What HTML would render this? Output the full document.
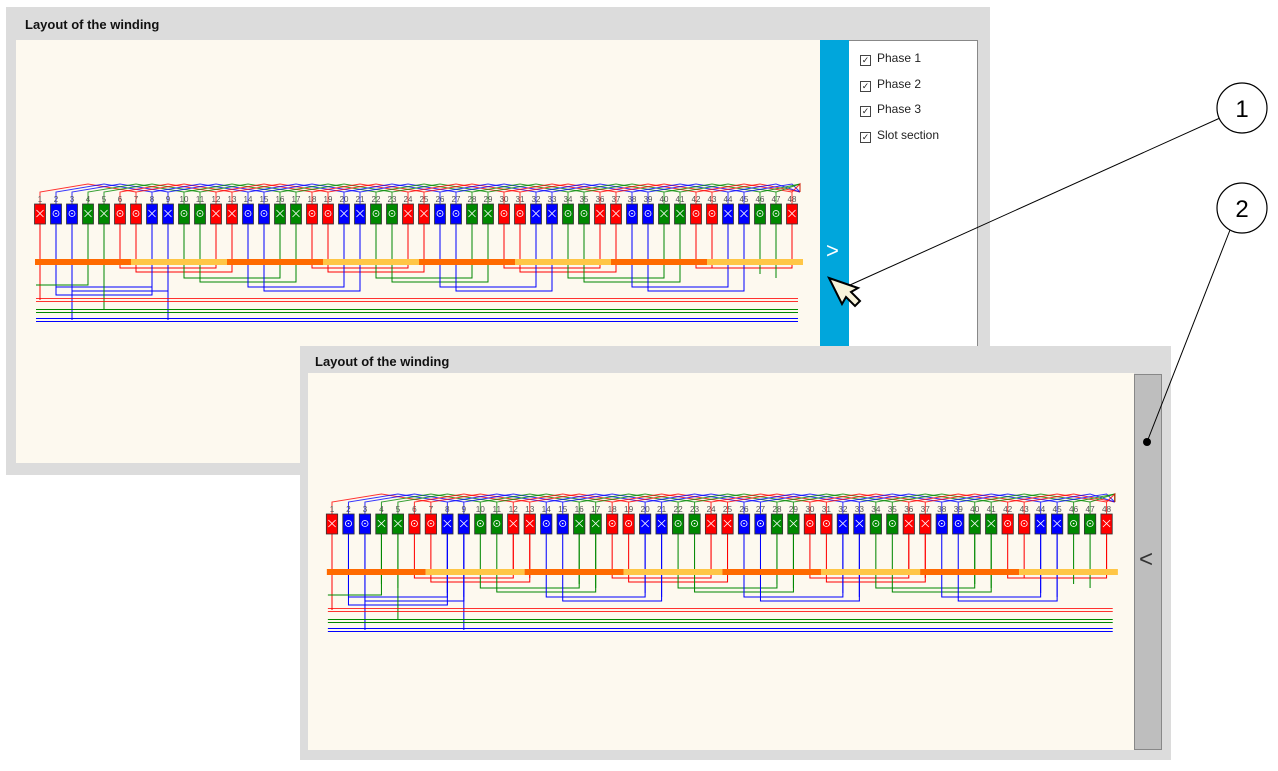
<!DOCTYPE html>
<html><head><meta charset="utf-8"><style>
body{margin:0;width:1278px;height:771px;background:#fff;position:relative;overflow:hidden;font-family:"Liberation Sans",sans-serif}
.a{position:absolute}
.t{font-weight:bold;font-size:13px;color:#111}
.cb{font-size:12px;color:#222;position:absolute;left:860px}
.cb span{display:inline-block;width:9px;height:9px;border:1px solid #444;margin-right:6px;font-size:9px;line-height:9px;text-align:center;vertical-align:-1px}
</style></head><body>
<div class="a" style="left:6px;top:7px;width:984px;height:468px;background:#dcdcdc"></div>
<div class="a t" style="left:25px;top:17px">Layout of the winding</div>
<div class="a" style="left:16px;top:40px;width:804px;height:423px;background:#fdf9ef"></div>
<div class="a" style="left:820px;top:40px;width:29px;height:310px;background:#00a6dc"></div>
<div class="a" style="left:826px;top:238px;color:#fff;font-size:22px">&gt;</div>
<div class="a" style="left:849px;top:40px;width:128px;height:310px;background:#fff;border:1px solid #888;border-left:none"></div>
<div class="cb" style="top:51px"><span>✓</span>Phase 1</div>
<div class="cb" style="top:77px"><span>✓</span>Phase 2</div>
<div class="cb" style="top:102px"><span>✓</span>Phase 3</div>
<div class="cb" style="top:128px"><span>✓</span>Slot section</div>

<div class="a" style="left:300px;top:346px;width:871px;height:414px;background:#dcdcdc"></div>
<div class="a t" style="left:315px;top:354px">Layout of the winding</div>
<div class="a" style="left:308px;top:373px;width:826px;height:377px;background:#fdf9ef"></div>
<div class="a" style="left:1134px;top:374px;width:26px;height:374px;background:#bebebe;border:1px solid #888"></div>
<div class="a" style="left:1139px;top:546px;color:#333;font-size:24px">&lt;</div>

<svg class="a" style="left:0;top:0" width="1278" height="771">
<g id="g1"></g>
<g id="g2" transform="translate(290.8,310) scale(1.03,1)"></g>
<g font-family="Liberation Sans" font-size="8" fill="#555" text-anchor="middle">
<g id="n1"><text y="202"><tspan x="40">1</tspan><tspan x="56">2</tspan><tspan x="72">3</tspan><tspan x="88">4</tspan><tspan x="104">5</tspan><tspan x="120">6</tspan><tspan x="136">7</tspan><tspan x="152">8</tspan><tspan x="168">9</tspan><tspan x="184">10</tspan><tspan x="200">11</tspan><tspan x="216">12</tspan><tspan x="232">13</tspan><tspan x="248">14</tspan><tspan x="264">15</tspan><tspan x="280">16</tspan><tspan x="296">17</tspan><tspan x="312">18</tspan><tspan x="328">19</tspan><tspan x="344">20</tspan><tspan x="360">21</tspan><tspan x="376">22</tspan><tspan x="392">23</tspan><tspan x="408">24</tspan><tspan x="424">25</tspan><tspan x="440">26</tspan><tspan x="456">27</tspan><tspan x="472">28</tspan><tspan x="488">29</tspan><tspan x="504">30</tspan><tspan x="520">31</tspan><tspan x="536">32</tspan><tspan x="552">33</tspan><tspan x="568">34</tspan><tspan x="584">35</tspan><tspan x="600">36</tspan><tspan x="616">37</tspan><tspan x="632">38</tspan><tspan x="648">39</tspan><tspan x="664">40</tspan><tspan x="680">41</tspan><tspan x="696">42</tspan><tspan x="712">43</tspan><tspan x="728">44</tspan><tspan x="744">45</tspan><tspan x="760">46</tspan><tspan x="776">47</tspan><tspan x="792">48</tspan></text></g>
<g transform="translate(290.8,310) scale(1.03,1)"><text y="202"><tspan x="40">1</tspan><tspan x="56">2</tspan><tspan x="72">3</tspan><tspan x="88">4</tspan><tspan x="104">5</tspan><tspan x="120">6</tspan><tspan x="136">7</tspan><tspan x="152">8</tspan><tspan x="168">9</tspan><tspan x="184">10</tspan><tspan x="200">11</tspan><tspan x="216">12</tspan><tspan x="232">13</tspan><tspan x="248">14</tspan><tspan x="264">15</tspan><tspan x="280">16</tspan><tspan x="296">17</tspan><tspan x="312">18</tspan><tspan x="328">19</tspan><tspan x="344">20</tspan><tspan x="360">21</tspan><tspan x="376">22</tspan><tspan x="392">23</tspan><tspan x="408">24</tspan><tspan x="424">25</tspan><tspan x="440">26</tspan><tspan x="456">27</tspan><tspan x="472">28</tspan><tspan x="488">29</tspan><tspan x="504">30</tspan><tspan x="520">31</tspan><tspan x="536">32</tspan><tspan x="552">33</tspan><tspan x="568">34</tspan><tspan x="584">35</tspan><tspan x="600">36</tspan><tspan x="616">37</tspan><tspan x="632">38</tspan><tspan x="648">39</tspan><tspan x="664">40</tspan><tspan x="680">41</tspan><tspan x="696">42</tspan><tspan x="712">43</tspan><tspan x="728">44</tspan><tspan x="744">45</tspan><tspan x="760">46</tspan><tspan x="776">47</tspan><tspan x="792">48</tspan></text></g>
</g>
<!-- callouts -->
<line x1="1220" y1="118" x2="850" y2="285" stroke="#000" stroke-width="1"/>
<line x1="1230" y1="230" x2="1147" y2="442" stroke="#000" stroke-width="1"/>
<circle cx="1147" cy="442" r="4" fill="#000"/>
<circle cx="1242" cy="108" r="25" fill="#fff" stroke="#000" stroke-width="1.2"/>
<circle cx="1242" cy="208" r="25" fill="#fff" stroke="#000" stroke-width="1.2"/>
<text x="1242" y="117" font-size="24" text-anchor="middle" font-family="Liberation Sans">1</text>
<text x="1242" y="217" font-size="24" text-anchor="middle" font-family="Liberation Sans">2</text>
<path d="M829,278 L858,288 L851,292 L860,301 L855,306 L846,297 L842,304 Z" fill="#f8f3da" stroke="#000" stroke-width="2"/>
</svg>
<script>
var C=['#f00','#00f','#080'];
function X(i){return 40+16*(i-1);}
var s='';
// zigzags
for(var i=1;i<=48;i++){var k=Math.floor(i/2),p=k%3,x=X(i);
 var tx=Math.min(X(i)+48,800), ex=Math.min(X(i+6),800);
 s+='<polyline fill="none" stroke="'+C[p]+'" stroke-width="1" opacity="0.8" points="'+x+',204 '+x+',192 '+tx+',184 '+ex+',192"/>';}
// verticals & connections
var dep=[[268,272],[287,291],[278,282]];
for(var i=1;i<=48;i++){var k=Math.floor(i/2),p=k%3,x=X(i);
 var y=dep[p][i%2];
 if(k%2==1 && i+6<=48){ s+='<polyline fill="none" stroke="'+C[p]+'" points="'+x+',224 '+x+','+y+' '+X(i+6)+','+y+' '+X(i+6)+',224"/>'; }
 else s+='<line x1="'+x+'" y1="224" x2="'+x+'" y2="'+(y-4)+'" stroke="'+C[p]+'"/>';
}
s+='<polyline fill="none" stroke="#f00" points="40,224 40,300"/><polyline fill="none" stroke="#00f" points="56,224 56,295 152,295 152,224"/><polyline fill="none" stroke="#080" points="36,285 88,285 88,224"/><line x1="104" y1="224" x2="104" y2="310" stroke="#080"/><line x1="72" y1="224" x2="72" y2="320" stroke="#00f"/><line x1="168" y1="224" x2="168" y2="320" stroke="#00f"/>';
// bars
for(var j=0;j<8;j++){s+='<rect x="'+(35+96*j)+'" y="259" width="96" height="6" fill="'+(j%2?'#ffc646':'#ff6a00')+'"/>';}
// boxes
for(var i=1;i<=48;i++){var k=Math.floor(i/2),p=k%3,x=X(i);
 s+='<rect x="'+(x-5.5)+'" y="204" width="11" height="20" fill="'+C[p]+'" stroke="#333" stroke-width="0.8"/>';
 if(k%2==0)s+='<path d="M'+(x-3.5)+',210 l7,7 M'+(x+3.5)+',210 l-7,7" stroke="#fff" stroke-width="0.8"/>';
 else s+='<circle cx="'+x+'" cy="213.5" r="3" fill="none" stroke="#fff" stroke-width="0.8"/><circle cx="'+x+'" cy="213.5" r="0.8" fill="#fff"/>';}
// bus lines
s+='<path d="M36,298.5H798M36,301.5H798" stroke="#f00" stroke-opacity="0.8"/><path d="M36,309.5H798M36,312.5H798" stroke="#080"/><path d="M36,318.5H798M36,321.5H798" stroke="#00f"/>';
document.getElementById('g1').innerHTML=s;
document.getElementById('g2').innerHTML=s;
</script>
</body></html>
